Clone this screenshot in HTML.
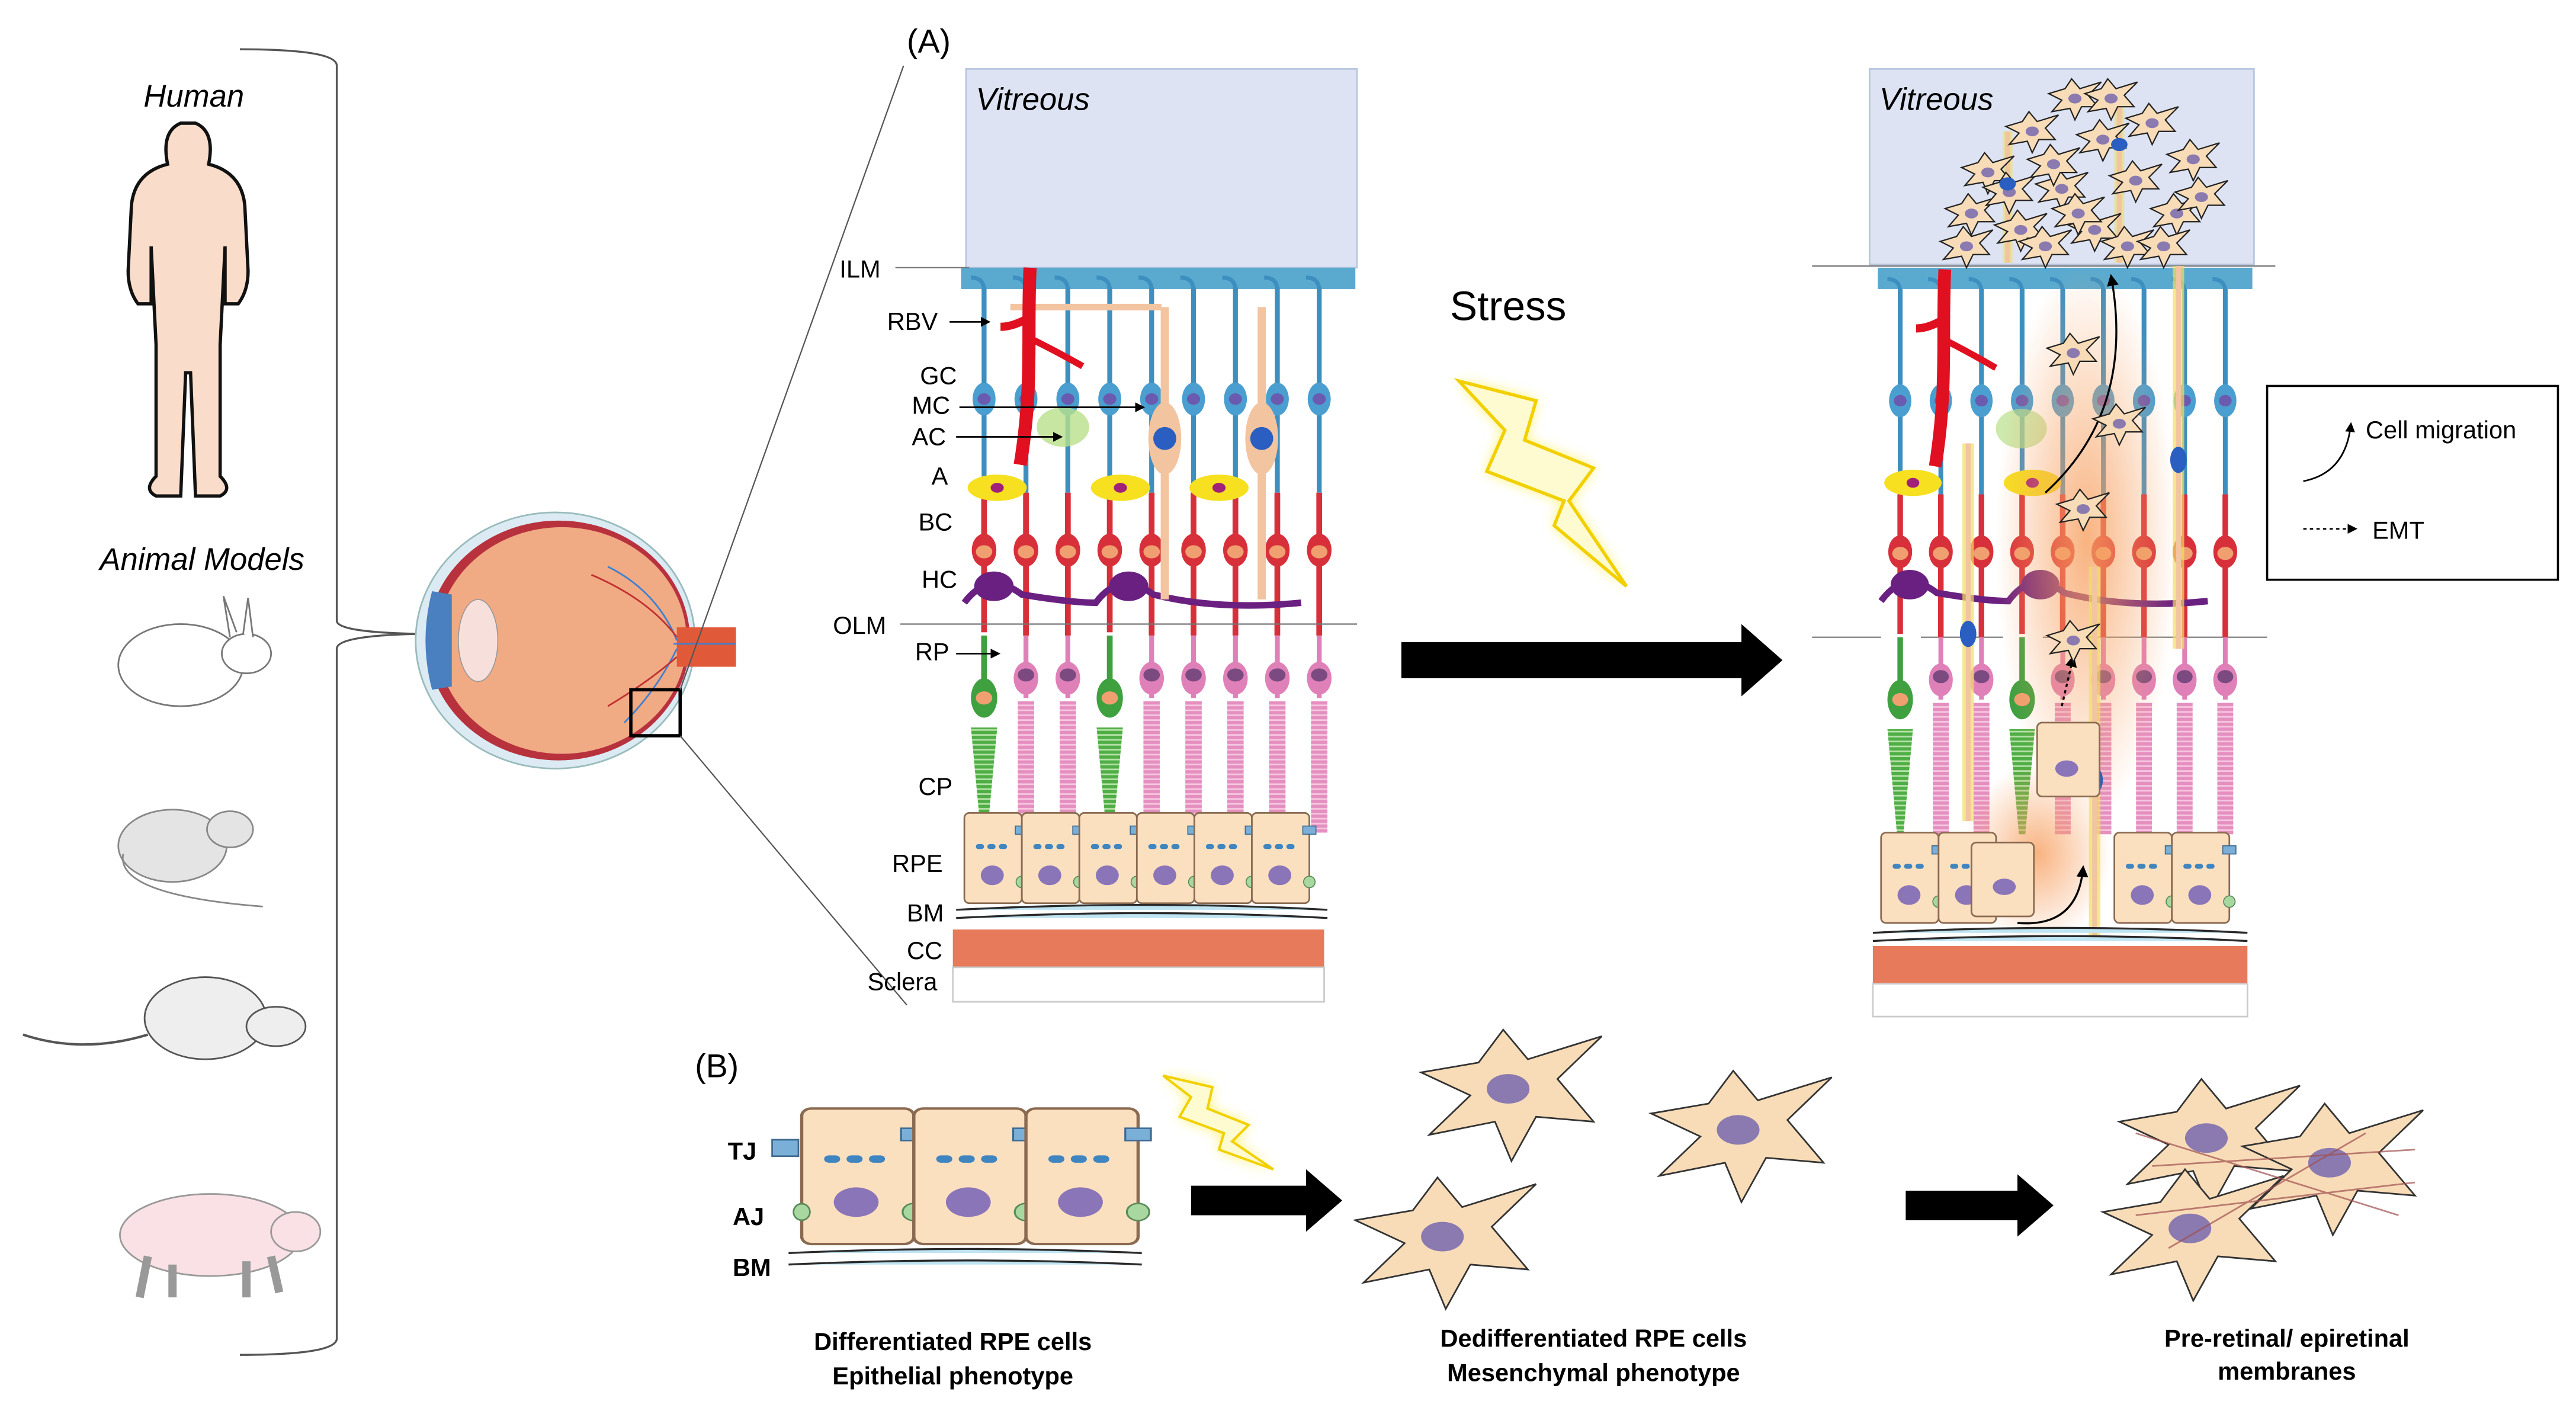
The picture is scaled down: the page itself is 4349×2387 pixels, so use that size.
<!DOCTYPE html>
<html><head><meta charset="utf-8"><style>
html,body{margin:0;padding:0;background:#fff}
svg{display:block}
text{font-family:"Liberation Sans",Arial,sans-serif}
</style></head><body>
<svg width="4349" height="2387" viewBox="0 0 1568 861" preserveAspectRatio="none" xmlns="http://www.w3.org/2000/svg">
<defs>
<pattern id="stripeP" width="4" height="3" patternUnits="userSpaceOnUse"><rect width="4" height="3" fill="#e58fc0"/><rect y="2" width="4" height="1" fill="#f6c7e0"/></pattern>
<pattern id="stripeG" width="4" height="3" patternUnits="userSpaceOnUse"><rect width="4" height="3" fill="#4fae45"/><rect y="2" width="4" height="1" fill="#b6e2a8"/></pattern>
<g id="col">
 <path d="M12 2 q0 -8 -8 -8" fill="none" stroke="#3d8fc0" stroke-width="2.5"/>
 <line x1="12" y1="0" x2="12" y2="125" stroke="#3d8fc0" stroke-width="3"/>
 <ellipse cx="12" cy="68" rx="7" ry="10" fill="#4a9fd0"/>
 <ellipse cx="12" cy="68" rx="4" ry="3.5" fill="#6a5ab0"/>
 <line x1="12" y1="125" x2="12" y2="212" stroke="#d8303a" stroke-width="3.5"/>
 <ellipse cx="12" cy="160" rx="7.5" ry="10" fill="#d8303a"/>
 <ellipse cx="12" cy="161" rx="5" ry="4" fill="#f0a070"/>
 <line x1="12" y1="212" x2="12" y2="250" stroke="#e080b8" stroke-width="3"/>
 <ellipse cx="12" cy="238" rx="7.5" ry="10" fill="#e080b8"/>
 <ellipse cx="12" cy="236" rx="5" ry="4" fill="#7a4a80"/>
 <rect x="7" y="252" width="10" height="80" fill="url(#stripeP)"/>
</g>
<g id="cone">
 <rect x="0" y="210" width="25" height="124" fill="#fff"/>
 <line x1="12" y1="212" x2="12" y2="260" stroke="#3fa040" stroke-width="3.5"/>
 <ellipse cx="12" cy="250" rx="8" ry="12" fill="#3fa040"/>
 <ellipse cx="12" cy="250" rx="5" ry="4" fill="#f0a070"/>
 <path d="M4 268 L20 268 L14 332 L10 332 Z" fill="url(#stripeG)"/>
</g>
<g id="rpe">
 <rect x="0" y="0" width="35" height="55" rx="3" fill="#fbe0c0" stroke="#8a6a50" stroke-width="1"/>
 <rect x="7" y="19" width="5" height="3" rx="1.5" fill="#3f85c0"/>
 <rect x="14" y="19" width="5" height="3" rx="1.5" fill="#3f85c0"/>
 <rect x="21" y="19" width="5" height="3" rx="1.5" fill="#3f85c0"/>
 <ellipse cx="17" cy="38" rx="7" ry="6" fill="#8a75b8"/>
 <circle cx="35" cy="42" r="3.5" fill="#a8d8a0" stroke="#5a8a5a" stroke-width="0.6"/>
 <rect x="31" y="8" width="8" height="5" fill="#7ab0d8" stroke="#3f6a90" stroke-width="0.6"/>
</g>
<g id="mcell">
 <path d="M-55 -12 L-20 -18 L-5 -38 L10 -20 L55 -34 L28 -8 L50 18 L15 15 L0 42 L-10 18 L-50 26 L-25 2 Z" fill="#f8dcb8" stroke="#333" stroke-width="1"/>
 <ellipse cx="-2" cy="-2" rx="13" ry="9" fill="#8a7ab0"/>
</g>
<g id="scell">
 <path d="M-16 -3 L-6 -6 L-2 -12 L3 -6 L16 -10 L8 -2 L14 5 L4 5 L0 13 L-3 6 L-14 8 L-8 1 Z" fill="#f8dcb8" stroke="#222" stroke-width="0.8"/>
 <ellipse cx="0" cy="0" rx="4" ry="3" fill="#8a7ab0"/>
</g>
<radialGradient id="glow"><stop offset="0" stop-color="#f7a060" stop-opacity="0.8"/><stop offset="1" stop-color="#f7a060" stop-opacity="0"/></radialGradient>
<filter id="blur"><feGaussianBlur stdDeviation="4"/></filter>
<marker id="ah" markerWidth="6" markerHeight="6" refX="5" refY="3" orient="auto"><path d="M0 0 L6 3 L0 6 Z" fill="#000"/></marker>
<g id="vessel">
 <path d="M40 -12 C38 30 42 60 34 108" fill="none" stroke="#e01020" stroke-width="8"/>
 <path d="M40 18 Q30 24 22 24" fill="none" stroke="#e01020" stroke-width="5"/>
 <path d="M42 32 Q58 40 72 48" fill="none" stroke="#e01020" stroke-width="4"/>
</g>
</defs>

<!-- bracket -->
<path d="M146 30 Q205 30 205 40 L205 378 Q205 385 255 386 Q205 387 205 395 L205 815 Q205 825 146 825" fill="none" stroke="#555" stroke-width="1.2"/>
<text x="118" y="65" font-size="19" font-style="italic" text-anchor="middle">Human</text>
<text x="123" y="347" font-size="19" font-style="italic" text-anchor="middle">Animal Models</text>
<path d="M110 75 q-12 5 -8 25 q-20 5 -22 25 l-2 40 q0 12 6 20 l8 0 l0 -35 l3 60 l0 80 q-8 8 0 12 l15 0 l3 -75 l3 0 l3 75 l15 0 q8 -4 0 -12 l0 -80 l3 -60 l0 35 l8 0 q6 -8 6 -20 l-2 -40 q-2 -20 -22 -25 q4 -20 -8 -25 Z" fill="#f9dcc9" stroke="#111" stroke-width="2"/>
<ellipse cx="110" cy="405" rx="38" ry="25" fill="#fff" stroke="#777"/><ellipse cx="150" cy="398" rx="15" ry="12" fill="#fff" stroke="#777"/><path d="M140 388 l-4 -25 l8 22 M148 386 l3 -22 l3 24" fill="#fff" stroke="#777"/>
<ellipse cx="105" cy="515" rx="33" ry="22" fill="#e4e4e4" stroke="#888"/><ellipse cx="140" cy="505" rx="14" ry="11" fill="#e4e4e4" stroke="#888"/><path d="M75 520 Q70 545 160 552" fill="none" stroke="#888"/>
<ellipse cx="125" cy="620" rx="37" ry="25" fill="#eee" stroke="#555"/><ellipse cx="168" cy="625" rx="18" ry="12" fill="#eee" stroke="#555"/><path d="M90 630 Q50 642 14 630" fill="none" stroke="#555" stroke-width="1.5"/>
<ellipse cx="128" cy="752" rx="55" ry="25" fill="#f9e1e6" stroke="#999"/><ellipse cx="180" cy="750" rx="15" ry="12" fill="#f9e1e6" stroke="#999"/><path d="M90 765 l-5 25 M105 770 l0 20 M150 768 l0 22 M165 765 l5 22" stroke="#999" stroke-width="5"/>

<!-- eye -->
<ellipse cx="338" cy="390" rx="85" ry="78" fill="#dbeaf3" stroke="#9bb" stroke-width="1"/>
<ellipse cx="340" cy="390" rx="80" ry="73" fill="#b8323e"/>
<ellipse cx="342" cy="390" rx="76" ry="69" fill="#f0aa84"/>
<path d="M263 360 Q255 390 263 420 L275 418 L275 362 Z" fill="#4a7fc0"/>
<ellipse cx="291" cy="390" rx="12" ry="25" fill="#f7e0dc" stroke="#999" stroke-width="0.6"/>
<rect x="412" y="382" width="36" height="24" fill="#e05a3a"/>
<path d="M370 345 Q400 360 412 390 M380 440 Q400 420 412 395 M410 392 L448 392" stroke="#3f7fd0" stroke-width="1" fill="none"/>
<path d="M360 350 Q395 365 412 388 M370 430 Q395 415 412 400" stroke="#c03030" stroke-width="1" fill="none"/>
<rect x="384" y="420" width="30" height="28" fill="none" stroke="#000" stroke-width="2"/>
<line x1="414" y1="420" x2="550" y2="40" stroke="#555" stroke-width="0.8"/>
<line x1="414" y1="448" x2="552" y2="612" stroke="#555" stroke-width="0.8"/>

<text x="552" y="32" font-size="20">(A)</text>
<!-- left panel -->
<rect x="588" y="42" width="238" height="121" fill="#dde3f2" stroke="#b8c6e0"/>
<text x="594" y="67" font-size="19" font-style="italic">Vitreous</text>
<rect x="585" y="163" width="240" height="13" fill="#5aaad0"/>
<g transform="translate(587,175)">
 <use href="#col" x="0"/><use href="#col" x="25.5"/><use href="#col" x="51"/><use href="#col" x="76.5"/><use href="#col" x="102"/><use href="#col" x="127.5"/><use href="#col" x="153"/><use href="#col" x="178.5"/><use href="#col" x="204"/>
 <use href="#cone" x="0"/><use href="#cone" x="76.5"/>
 <ellipse cx="20" cy="122" rx="18" ry="8" fill="#f6e020"/><ellipse cx="20" cy="122" rx="4" ry="3" fill="#a0207a"/>
 <ellipse cx="95" cy="122" rx="18" ry="8" fill="#f6e020"/><ellipse cx="95" cy="122" rx="4" ry="3" fill="#a0207a"/>
 <ellipse cx="155" cy="122" rx="18" ry="8" fill="#f6e020"/><ellipse cx="155" cy="122" rx="4" ry="3" fill="#a0207a"/>
 <path d="M0 192 q15 -20 35 -5 q30 5 45 5 q15 -20 35 -5 q40 10 90 5" fill="none" stroke="#6a2080" stroke-width="4"/>
 <ellipse cx="18" cy="182" rx="12" ry="9" fill="#6a2080"/><ellipse cx="100" cy="182" rx="12" ry="9" fill="#6a2080"/>
 <ellipse cx="60" cy="85" rx="16" ry="12" fill="#b8e08a" opacity="0.8"/>
 <line x1="28" y1="12" x2="120" y2="12" stroke="#f3c4a0" stroke-width="4"/>
 <path d="M122 12 L122 190 M181 12 L181 190" stroke="#f3c4a0" stroke-width="5"/>
 <ellipse cx="122" cy="92" rx="10" ry="22" fill="#f3c4a0"/><ellipse cx="122" cy="92" rx="7" ry="7" fill="#2a5ec0"/>
 <ellipse cx="181" cy="92" rx="10" ry="22" fill="#f3c4a0"/><ellipse cx="181" cy="92" rx="7" ry="7" fill="#2a5ec0"/>
 <use href="#vessel"/>
</g>
<g transform="translate(587,495)">
 <use href="#rpe" x="0"/><use href="#rpe" x="35"/><use href="#rpe" x="70"/><use href="#rpe" x="105"/><use href="#rpe" x="140"/><use href="#rpe" x="175"/>
</g>
<path d="M582 554 Q700 548 808 554 M582 559 Q700 553 808 559" stroke="#2a2a2a" stroke-width="1.2" fill="#bfe4f2"/>
<rect x="580" y="566" width="226" height="23" fill="#e77a5a"/>
<rect x="580" y="589" width="226" height="21" fill="#fff" stroke="#ccc"/>
<g font-size="15">
<text x="511" y="169">ILM</text><text x="540" y="201">RBV</text><text x="560" y="234">GC</text><text x="555" y="252">MC</text><text x="555" y="271">AC</text><text x="567" y="295">A</text><text x="559" y="323">BC</text><text x="561" y="358">HC</text><text x="507" y="386">OLM</text><text x="557" y="402">RP</text><text x="559" y="484">CP</text><text x="543" y="531">RPE</text><text x="552" y="561">BM</text><text x="552" y="584">CC</text><text x="528" y="603">Sclera</text>
</g>
<line x1="545" y1="163" x2="590" y2="163" stroke="#777" stroke-width="0.8"/>
<line x1="548" y1="380" x2="826" y2="380" stroke="#777" stroke-width="0.8"/>
<g stroke="#000" stroke-width="1" marker-end="url(#ah)">
<line x1="578" y1="196" x2="602" y2="196"/><line x1="584" y1="248" x2="696" y2="248"/><line x1="582" y1="266" x2="646" y2="266"/><line x1="582" y1="398" x2="608" y2="398"/>
</g>

<text x="918" y="195" font-size="25" text-anchor="middle">Stress</text>
<g filter="url(#blur)"><path d="M888 232 L935 244 L928 268 L970 285 L955 305 L990 357 L946 320 L952 305 L905 287 L916 262 Z" fill="#ffe800" opacity="0.6"/></g>
<path d="M888 232 L935 244 L928 268 L970 285 L955 305 L990 357 L946 320 L952 305 L905 287 L916 262 Z" fill="#fffbd0" stroke="#f2d000" stroke-width="2"/>
<path d="M853 391 L1060 391 L1060 380 L1085 402 L1060 424 L1060 413 L853 413 Z" fill="#000"/>

<!-- right panel -->
<rect x="1138" y="42" width="234" height="119" fill="#dde3f2" stroke="#b8c6e0"/>
<text x="1144" y="67" font-size="19" font-style="italic">Vitreous</text>
<line x1="1103" y1="162" x2="1385" y2="162" stroke="#777" stroke-width="0.8"/>
<line x1="1103" y1="388" x2="1380" y2="388" stroke="#777" stroke-width="0.8"/>
<rect x="1143" y="163" width="228" height="13" fill="#5aaad0"/>
<g transform="translate(1145,176) scale(0.97,1.0)">
 <use href="#col" x="0"/><use href="#col" x="25.5"/><use href="#col" x="51"/><use href="#col" x="76.5"/><use href="#col" x="102"/><use href="#col" x="127.5"/><use href="#col" x="153"/><use href="#col" x="178.5"/><use href="#col" x="204"/>
 <use href="#cone" x="0"/><use href="#cone" x="76.5"/>
 <ellipse cx="20" cy="118" rx="18" ry="8" fill="#f6e020"/><ellipse cx="20" cy="118" rx="4" ry="3" fill="#a0207a"/>
 <ellipse cx="95" cy="118" rx="18" ry="8" fill="#f6e020"/><ellipse cx="95" cy="118" rx="4" ry="3" fill="#a0207a"/>
 <path d="M0 190 q15 -20 35 -5 q30 5 45 5 q15 -20 35 -5 q40 10 90 5" fill="none" stroke="#6a2080" stroke-width="4"/>
 <ellipse cx="18" cy="180" rx="12" ry="9" fill="#6a2080"/><ellipse cx="100" cy="180" rx="12" ry="9" fill="#6a2080"/>
 <ellipse cx="88" cy="85" rx="16" ry="12" fill="#b8e08a" opacity="0.7"/>
 <use href="#vessel"/>
</g>
<ellipse cx="1270" cy="330" rx="55" ry="170" fill="url(#glow)"/>
<ellipse cx="1240" cy="520" rx="45" ry="55" fill="url(#glow)"/>
<g stroke="#f0e060" stroke-width="7" opacity="0.7"><line x1="1198" y1="270" x2="1198" y2="500"/><line x1="1326" y1="162" x2="1326" y2="395"/><line x1="1275" y1="345" x2="1275" y2="570"/></g>
<g stroke="#f3c4a0" stroke-width="3"><line x1="1198" y1="270" x2="1198" y2="500"/><line x1="1326" y1="162" x2="1326" y2="395"/><line x1="1275" y1="345" x2="1275" y2="570"/></g>
<ellipse cx="1198" cy="386" rx="5" ry="8" fill="#2a5ec0"/><ellipse cx="1326" cy="280" rx="5" ry="8" fill="#2a5ec0"/><ellipse cx="1275" cy="475" rx="5" ry="8" fill="#2a5ec0"/>
<g transform="translate(1145,507)">
 <use href="#rpe" x="0"/><use href="#rpe" x="35"/><use href="#rpe" x="142"/><use href="#rpe" x="177"/>
</g>
<rect x="1240" y="440" width="38" height="45" rx="3" fill="#fbe0c0" stroke="#8a6a50"/><ellipse cx="1258" cy="468" rx="7" ry="5" fill="#8a75b8"/>
<rect x="1200" y="513" width="38" height="45" rx="3" fill="#fbe0c0" stroke="#8a6a50"/><ellipse cx="1220" cy="540" rx="7" ry="5" fill="#8a75b8"/>
<path d="M1228 562 Q1265 565 1268 528" fill="none" stroke="#000" stroke-width="1.2" marker-end="url(#ah)"/>
<path d="M1245 300 Q1300 250 1285 168" fill="none" stroke="#000" stroke-width="1.2" marker-end="url(#ah)"/>
<line x1="1255" y1="430" x2="1262" y2="400" stroke="#000" stroke-width="1.2" stroke-dasharray="2,2" marker-end="url(#ah)"/>
<path d="M1140 568 Q1255 562 1368 568 M1140 573 Q1255 567 1368 573" stroke="#2a2a2a" stroke-width="1.2" fill="#bfe4f2"/>
<rect x="1140" y="576" width="228" height="23" fill="#e77a5a"/>
<rect x="1140" y="599" width="228" height="20" fill="#fff" stroke="#ccc"/>
<!-- vitreous cells -->
<g stroke="#f0e060" stroke-width="6" opacity="0.6"><line x1="1222" y1="80" x2="1222" y2="160"/><line x1="1290" y1="60" x2="1290" y2="160"/></g>
<g stroke="#f3c4a0" stroke-width="3"><line x1="1222" y1="80" x2="1222" y2="160"/><line x1="1290" y1="60" x2="1290" y2="160"/></g>
<g transform="translate(1255,105)">
<use href="#scell" x="-55" y="25"/><use href="#scell" x="-45" y="0"/><use href="#scell" x="-25" y="35"/><use href="#scell" x="-18" y="-25"/><use href="#scell" x="0" y="10"/><use href="#scell" x="8" y="-45"/><use href="#scell" x="25" y="-20"/><use href="#scell" x="20" y="35"/><use href="#scell" x="45" y="5"/><use href="#scell" x="55" y="-30"/><use href="#scell" x="70" y="25"/><use href="#scell" x="80" y="-8"/><use href="#scell" x="-58" y="45"/><use href="#scell" x="40" y="45"/><use href="#scell" x="-32" y="12"/><use href="#scell" x="62" y="45"/><use href="#scell" x="-5" y="-5"/><use href="#scell" x="30" y="-45"/><use href="#scell" x="-10" y="45"/><use href="#scell" x="85" y="15"/><use href="#scell" x="10" y="25"/>
</g>
<ellipse cx="1222" cy="112" rx="5" ry="4" fill="#2a5ec0"/><ellipse cx="1290" cy="88" rx="5" ry="4" fill="#2a5ec0"/>
<use href="#scell" x="1262" y="215"/><use href="#scell" x="1290" y="258"/><use href="#scell" x="1268" y="310"/><use href="#scell" x="1262" y="390"/>
<!-- legend -->
<rect x="1380" y="235" width="177" height="118" fill="#fff" stroke="#000" stroke-width="1.3"/>
<path d="M1402 293 Q1428 288 1431 258" fill="none" stroke="#000" stroke-width="1" marker-end="url(#ah)"/>
<text x="1440" y="267" font-size="15">Cell migration</text>
<line x1="1402" y1="322" x2="1434" y2="322" stroke="#000" stroke-dasharray="2,2" marker-end="url(#ah)"/>
<text x="1444" y="328" font-size="15">EMT</text>

<!-- (B) -->
<text x="423" y="656" font-size="20">(B)</text>
<g font-size="15" font-weight="bold"><text x="443" y="706">TJ</text><text x="446" y="746">AJ</text><text x="446" y="777">BM</text></g>
<g transform="translate(488,675) scale(1.95,1.5)">
 <use href="#rpe" x="0"/><use href="#rpe" x="35"/><use href="#rpe" x="70"/>
</g>
<circle cx="488" cy="738" r="5" fill="#a8d8a0" stroke="#5a8a5a"/>
<rect x="470" y="694" width="16" height="10" fill="#7ab0d8" stroke="#3f6a90"/>
<path d="M480 763 Q590 758 695 763 M480 770 Q590 765 695 770" stroke="#2a2a2a" stroke-width="1.2" fill="#bfe4f2"/>
<g filter="url(#blur)"><path d="M708 655 L738 662 L735 675 L760 685 L750 695 L775 712 L742 700 L745 690 L718 680 L725 668 Z" fill="#ffe800" opacity="0.6"/></g>
<path d="M708 655 L738 662 L735 675 L760 685 L750 695 L775 712 L742 700 L745 690 L718 680 L725 668 Z" fill="#fffbd0" stroke="#f2d000" stroke-width="1.5"/>
<path d="M725 722 L795 722 L795 712 L817 731 L795 750 L795 740 L725 740 Z" fill="#000"/>
<path d="M1160 725 L1228 725 L1228 715 L1250 734 L1228 753 L1228 743 L1160 743 Z" fill="#000"/>
<use href="#mcell" x="920" y="665"/>
<use href="#mcell" x="1060" y="690"/>
<use href="#mcell" x="880" y="755"/>
<g transform="translate(1345,695)"><use href="#mcell"/></g>
<g transform="translate(1420,710)"><use href="#mcell"/></g>
<g transform="translate(1335,750)"><use href="#mcell"/></g>
<g stroke="#a05050" stroke-width="1" opacity="0.7">
<line x1="1300" y1="690" x2="1460" y2="740"/><line x1="1310" y1="710" x2="1470" y2="700"/><line x1="1320" y1="760" x2="1440" y2="690"/><line x1="1300" y1="740" x2="1470" y2="720"/>
</g>
<g font-size="15" font-weight="bold" text-anchor="middle">
<text x="580" y="822">Differentiated  RPE cells</text><text x="580" y="843">Epithelial  phenotype</text>
<text x="970" y="820">Dedifferentiated  RPE cells</text><text x="970" y="841">Mesenchymal  phenotype</text>
<text x="1392" y="820">Pre-retinal/  epiretinal</text><text x="1392" y="840">membranes</text>
</g>
</svg>
</body></html>
